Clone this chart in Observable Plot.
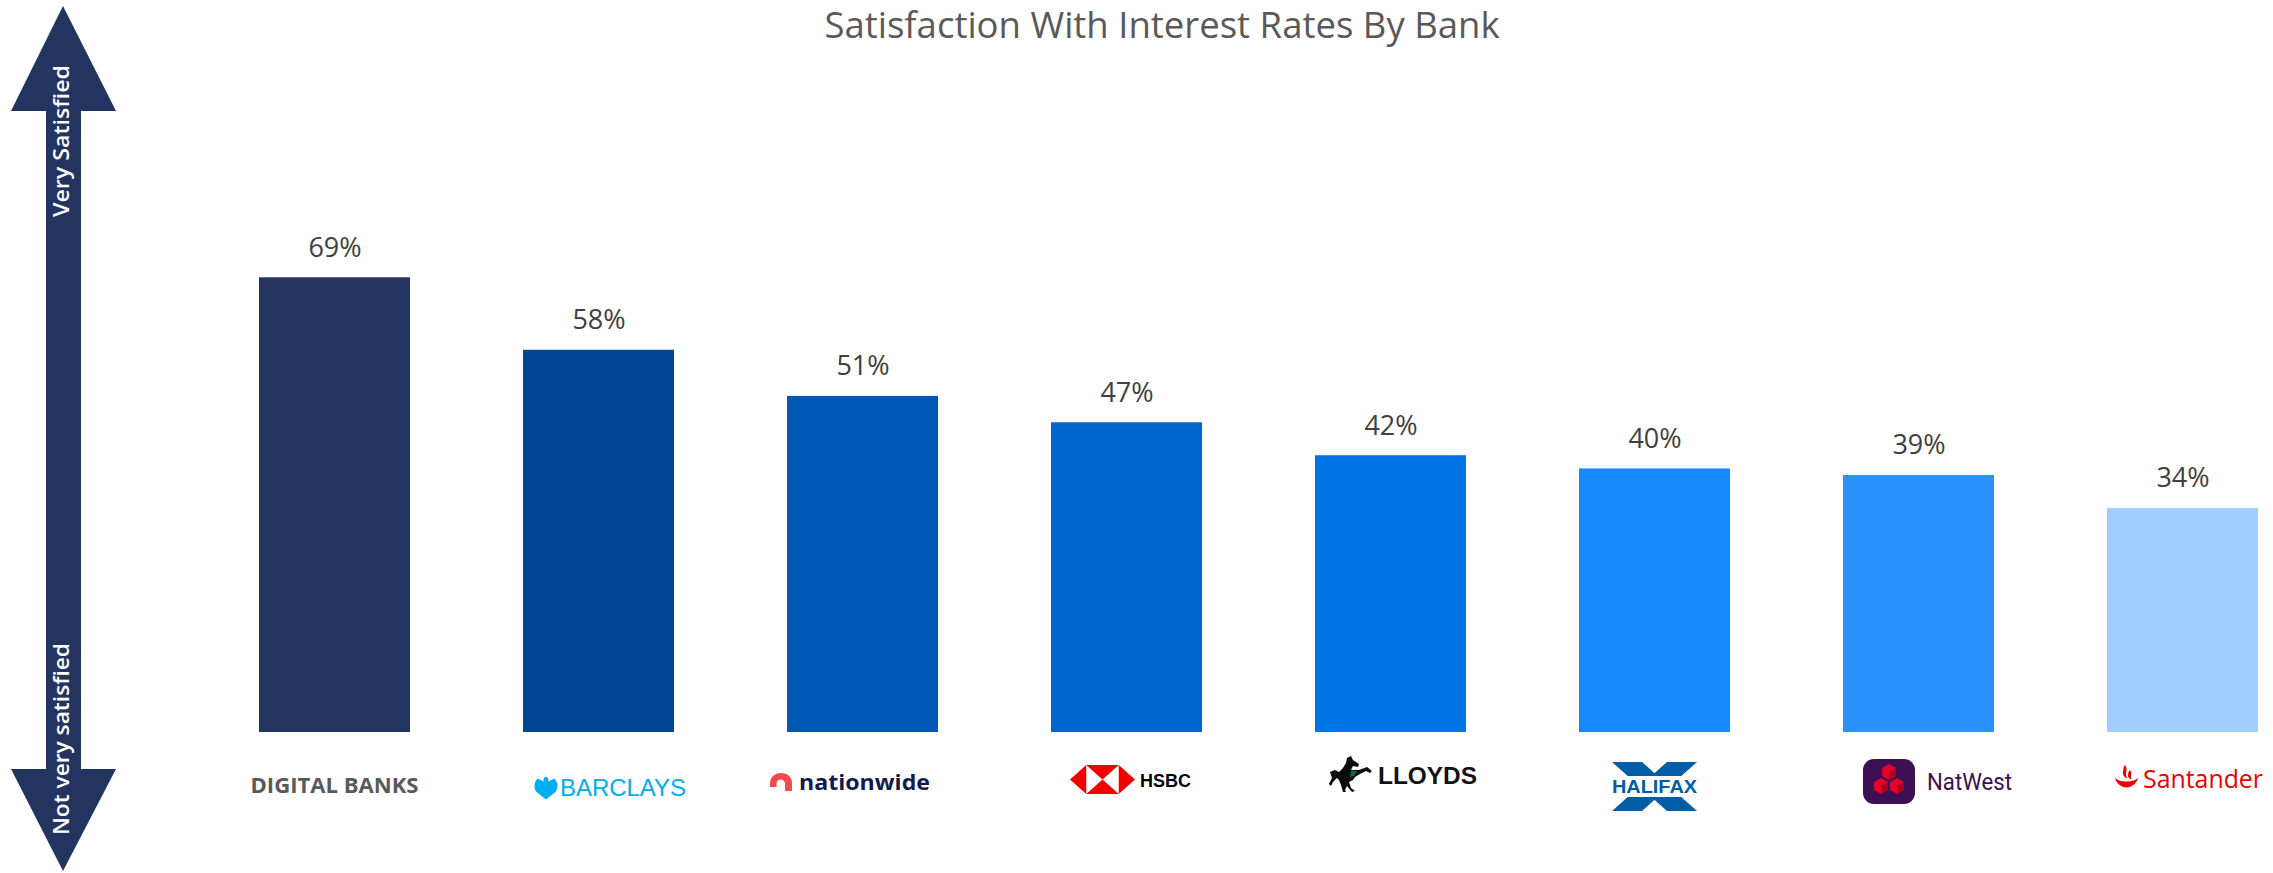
<!DOCTYPE html>
<html>
<head>
<meta charset="utf-8">
<script src="https://cdn.jsdelivr.net/npm/d3@7"></script>
<script src="https://cdn.jsdelivr.net/npm/@observablehq/plot@0.6"></script>
<style>
  html, body { margin: 0; padding: 0; background: #ffffff; }
  #wrap { position: relative; width: 2273px; height: 873px; overflow: hidden; }
  #title {
    position: absolute; left: 0; top: 1px; width: 2273px; box-sizing: border-box;
    padding-left: 51px; text-align: center; font-family: "Open Sans", sans-serif;
    font-size: 36.5px; line-height: 1.3; color: #595959; white-space: nowrap;
  }
</style>
</head>
<body>
<div id="wrap">
  <div id="chart"></div>
  <div id="title">Satisfaction With Interest Rates By Bank</div>
</div>
<script>
// Share of customers satisfied with their interest rates, by bank
const banks = ["DIGITAL BANKS", "BARCLAYS", "nationwide", "HSBC", "LLOYDS", "HALIFAX", "NatWest", "Santander"];
const satisfaction = [69, 58, 51, 47, 42, 40, 39, 34];
const barColors = ["#22345f", "#004692", "#0058b4", "#0067d1", "#0075e6", "#168aff", "#2a91ff", "#a2cefd"];
const scaleLabels = ["Very Satisfied", "Not very satisfied"];

const data = banks.map((bank, i) => ({bank, value: satisfaction[i]}));

// Double-headed arrow on the left with its two end labels
function satisfactionArrow(index, scales, values, dimensions) {
  const g = d3.create("svg:g");
  const navy = "#22345f";
  g.append("polygon")
    .attr("fill", navy)
    .attr("points", [
      [63, 6], [116, 111], [81, 111], [81, 769], [116, 769],
      [63, 871], [11, 769], [46, 769], [46, 111], [11, 111]
    ].map(p => p.join(",")).join(" "));
  const lab = (txt, cy, len) => g.append("text")
    .attr("transform", `translate(69,${cy}) rotate(-90)`)
    .attr("text-anchor", "middle")
    .attr("fill", "#ffffff")
    .attr("font-family", "Open Sans, sans-serif")
    .attr("font-weight", 600)
    .attr("font-size", 21)
    .attr("textLength", len)
    .attr("lengthAdjust", "spacingAndGlyphs")
    .text(txt);
  lab(scaleLabels[0], 141, 152);
  lab(scaleLabels[1], 739, 192);
  return g.node();
}

// Bank name / wordmark drawn under each bar
function bankLabels(index, scales, values, dimensions) {
  const g = d3.create("svg:g");
  const bw = scales.x.bandwidth ? scales.x.bandwidth() : 151;
  const yb = dimensions.height - dimensions.marginBottom;
  const txt = (sel, s, x, y, opts) => {
    const t = sel.append("text").attr("x", x).attr("y", y).text(s)
      .attr("font-family", opts.family || "Open Sans, sans-serif")
      .attr("font-size", opts.size)
      .attr("font-weight", opts.weight || 400)
      .attr("fill", opts.fill)
      .attr("text-anchor", opts.anchor || "start");
    if (opts.len) t.attr("textLength", opts.len).attr("lengthAdjust", "spacingAndGlyphs");
    return t;
  };
  banks.forEach(bank => {
    const cx = scales.x(bank) + bw / 2;
    const lg = g.append("g").attr("transform", `translate(${cx},${yb})`);
    if (bank === "DIGITAL BANKS") {
      txt(lg, bank, 0, 61, {size: 22, weight: 700, fill: "#595959", anchor: "middle", len: 168});
    } else if (bank === "BARCLAYS") {
      lg.append("path").attr("fill", "#00aeef")
        .attr("d", "M-52.5,45 C-50.5,45 -49.5,47 -50.3,49.5 L-44,46.5 C-40.5,50 -40,56 -43,60 L-47.5,63.5 L-52.5,67.5 L-57.5,63.5 L-62,60 C-65,56 -64.5,50 -61,46.5 L-54.7,49.5 C-55.5,47 -54.5,45 -52.5,45 Z");
      txt(lg, bank, -38.5, 64, {family: "Liberation Sans, sans-serif", size: 24, fill: "#00aeef", len: 126});
    } else if (bank === "nationwide") {
      lg.append("path").attr("fill", "#f5484c")
        .attr("d", "M-92.5,52 C-92.5,45 -88,41 -81.5,41 C-75,41 -70.5,45 -70.5,51 L-70.5,59 L-77.5,59 L-77.5,52 C-77.5,49 -79.5,47.5 -82,47.5 C-84.5,47.5 -86,49 -86,52 L-86,55 L-92.5,55 Z");
      txt(lg, bank, -63.5, 58, {size: 22, weight: 700, fill: "#0f1b4c", len: 131});
    } else if (bank === "HSBC") {
      const x0 = -56.5, y0 = 33, ux = 65 / 4, H = 29, uy = H / 2;
      const red = "#f00000";
      const tri = pts => lg.append("polygon").attr("fill", red)
        .attr("points", pts.map(p => [x0 + p[0], y0 + p[1]].join(",")).join(" "));
      tri([[0, uy], [ux, 0], [ux, H]]);
      tri([[ux, 0], [3 * ux, 0], [2 * ux, uy]]);
      tri([[ux, H], [3 * ux, H], [2 * ux, uy]]);
      tri([[3 * ux, 0], [4 * ux, uy], [3 * ux, H]]);
      txt(lg, bank, 13.5, 55, {family: "Liberation Sans, sans-serif", size: 18, weight: 700, fill: "#000000", len: 51});
    } else if (bank === "LLOYDS") {
      const hx = -61.5, hy = 24;
      const horse = [[18,2],[22,0],[24,4],[30,8],[29,11],[24,10],[22,14],[30,14],[38,11],[43,15],[41,17],[37,15],[31,18],[26,21],[24,24],[20,26],[22,32],[26,35],[23,36],[18,30],[16,34],[17,36],[14,36],[12,29],[10,24],[8,22],[4,26],[2,30],[0,28],[3,22],[1,16],[6,14],[10,16],[14,12],[17,7]];
      lg.append("polygon").attr("fill", "#0b0b0b")
        .attr("points", horse.map(p => [hx + p[0], hy + p[1]].join(",")).join(" "));
      lg.append("polygon").attr("fill", "#006a4d")
        .attr("points", [[22,15],[28,15],[25,20],[21,21]].map(p => [hx + p[0], hy + p[1]].join(",")).join(" "));
      txt(lg, bank, -12.5, 52, {family: "Liberation Sans, sans-serif", size: 24, weight: 700, fill: "#111111", len: 99});
    } else if (bank === "HALIFAX") {
      const blue = "#005da6";
      const x0 = -42.5, x1 = 42.5, y0 = 30, y1 = 79, a = 30;
      lg.append("polygon").attr("fill", blue)
        .attr("points", [[x0, y0], [x0 + a, y0], [x1, y1], [x1 - a, y1]].map(p => p.join(",")).join(" "));
      lg.append("polygon").attr("fill", blue)
        .attr("points", [[x1 - a, y0], [x1, y0], [x0 + a, y1], [x0, y1]].map(p => p.join(",")).join(" "));
      lg.append("rect").attr("x", x0 - 1).attr("y", 44).attr("width", x1 - x0 + 2).attr("height", 21).attr("fill", "#ffffff");
      txt(lg, bank, 0, 61, {family: "Liberation Sans, sans-serif", size: 18, weight: 700, fill: blue, anchor: "middle", len: 85});
    } else if (bank === "NatWest") {
      const purple = "#3c1053";
      lg.append("rect").attr("x", -55.5).attr("y", 27).attr("width", 52).attr("height", 45)
        .attr("rx", 11).attr("fill", purple);
      const cube = (a, b, r) => {
        const hex = [[a, b - r], [a + 0.866 * r, b - 0.5 * r], [a + 0.866 * r, b + 0.5 * r], [a, b + r], [a - 0.866 * r, b + 0.5 * r], [a - 0.866 * r, b - 0.5 * r]];
        lg.append("polygon").attr("fill", "#e4002b").attr("points", hex.map(p => p.join(",")).join(" "));
        lg.append("polygon").attr("fill", "#b0001e")
          .attr("points", [[a, b], [a + 0.866 * r, b - 0.5 * r], [a + 0.866 * r, b + 0.5 * r], [a, b + r]].map(p => p.join(",")).join(" "));
      };
      cube(-29.5, 40, 8);
      cube(-37.5, 54, 8);
      cube(-21.5, 54, 8);
      txt(lg, bank, 8.5, 58, {family: "Roboto, sans-serif", size: 23, fill: purple, len: 85});
    } else if (bank === "Santander") {
      const red = "#ec0000";
      lg.append("path").attr("fill", red)
        .attr("d", "M-67.5,46 C-66.5,51 -61,55.5 -56,55.5 C-51,55.5 -45.5,51 -44.5,46 C-47,48.5 -51,49.5 -56,49.5 C-61,49.5 -65,48.5 -67.5,46 Z");
      lg.append("path").attr("fill", red)
        .attr("d", "M-58,33 C-53,37 -59,41 -55,47 C-61,44 -60,40 -58,33 Z");
      lg.append("path").attr("fill", red)
        .attr("d", "M-53,38 C-49,41 -53,44 -51,47.5 C-56,45.5 -55,42 -53,38 Z");
      txt(lg, bank, -39.5, 56, {size: 25, weight: 500, fill: red, len: 120});
    }
  });
  return g.node();
}

const chart = Plot.plot({
  width: 2273,
  height: 873,
  marginLeft: 259,
  marginRight: 15,
  marginTop: 73,
  marginBottom: 141,
  style: {fontFamily: "Open Sans, sans-serif", background: "#ffffff"},
  x: {domain: banks, paddingInner: 0.428, paddingOuter: 0, round: false, axis: null},
  y: {domain: [0, 100], axis: null},
  color: {type: "ordinal", domain: banks, range: barColors},
  marks: [
    Plot.barY(data, {x: "bank", y: "value", fill: "bank"}),
    Plot.text(data, {
      x: "bank", y: "value", text: d => `${d.value}%`,
      dy: -21, lineAnchor: "bottom", fontSize: 27, fill: "#404040"
    }),
    satisfactionArrow,
    bankLabels
  ]
});
document.getElementById("chart").appendChild(chart);
</script>
</body>
</html>
